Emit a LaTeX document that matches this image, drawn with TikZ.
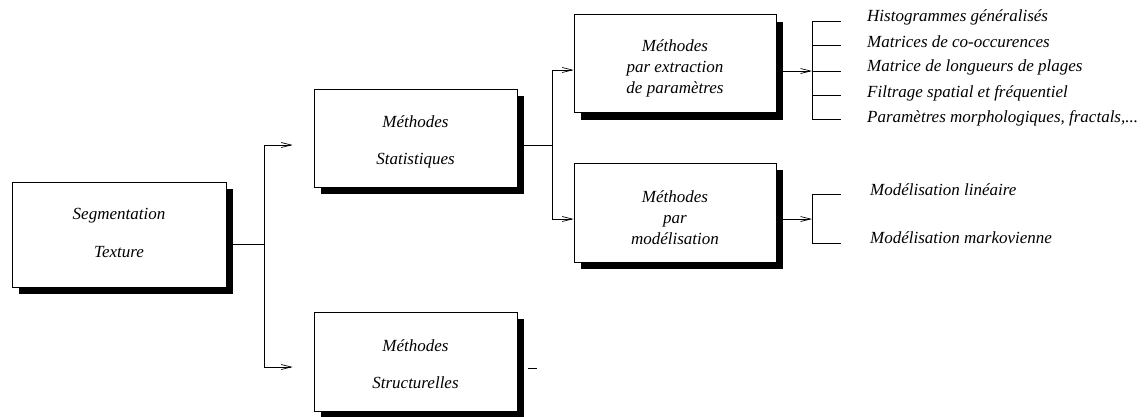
\documentclass[tikz,border=0pt]{standalone}
\usepackage{fontspec}
\setmainfont{Liberation Serif}
\usetikzlibrary{arrows.meta,shadows}
\begin{document}
\begin{tikzpicture}[x=1pt,y=-1pt,
  txt/.style={font=\fontsize{17}{21}\selectfont\itshape},
  box/.style={draw,line width=0.7pt,fill=white,inner sep=0pt,
    drop shadow={shadow xshift=7pt,shadow yshift=-7pt,fill=black,opacity=1}},
  boxtxt/.style={txt,align=center,inner sep=0pt},
  leaf/.style={txt,anchor=west,inner sep=0pt},
  conn/.style={line width=0.7pt},
  arr/.style={conn,-{Straight Barb[length=10pt,width=5pt]}}]
\useasboundingbox (0,0) rectangle (1148,416);

% boxes
\node[box,minimum width=214pt,minimum height=105pt] (b1) at (119,234.5) {};
\node[box,minimum width=203pt,minimum height=98pt] (b2) at (415.5,138) {};
\node[box,minimum width=203pt,minimum height=99pt] (b5) at (415.5,361.5) {};
\node[box,minimum width=202pt,minimum height=98pt] (b3) at (675,63.5) {};
\node[box,minimum width=202pt,minimum height=99pt] (b4) at (675,212.5) {};

% box texts
\node[boxtxt] (t1) at ([yshift=2pt]b1.center) {Segmentation\\[17pt]Texture};
\node[boxtxt] (t2) at ([yshift=-4pt]b2.center) {Méthodes\\[16pt]Statistiques};
\node[boxtxt] (t5) at ([yshift=-3pt]b5.center) {Méthodes\\[16pt]Structurelles};
\node[boxtxt] (t3) at ([yshift=-4.5pt]b3.center) {Méthodes\\par extraction\\de paramètres};
\node[boxtxt] (t4) at ([yshift=-5pt]b4.center) {Méthodes\\par\\modélisation};

% leaves
\node[leaf] (l1) at (867,17) {Histogrammes généralisés};
\node[leaf] (l2) at (867,42) {Matrices de co-occurences};
\node[leaf] (l3) at (867,67) {Matrice de longueurs de plages};
\node[leaf] (l4) at (867,93) {Filtrage spatial et fréquentiel};
\node[leaf] (l5) at (867,118) {Paramètres morphologiques, fractals,...};
\node[leaf] (m1) at (870,190) {Modélisation linéaire};
\node[leaf] (m2) at (870,238) {Modélisation markovienne};

% junction points
\coordinate (j1) at (264,244);
\coordinate (j1t) at (264,145);
\coordinate (j1b) at (264,367);
\coordinate (j2) at (552,145);
\coordinate (j2t) at (552,70);
\coordinate (j2b) at (552,219);
\coordinate (j3) at (812,71);
\coordinate (j3t) at (812,21);
\coordinate (j3b) at (812,119);
\coordinate (j4) at (812,219);
\coordinate (j4t) at (812,194);
\coordinate (j4b) at (812,243);

% level 1
\draw[conn] (b1.east |- j1) -- (j1);
\draw[conn] (j1t) -- (j1b);
\draw[arr,shorten >=21pt] (j1t) -- (j1t -| b2.west);
\draw[arr,shorten >=21pt] (j1b) -- (j1b -| b5.west);

% level 2
\draw[conn] (b2.east |- j2) -- (j2);
\draw[conn] (j2t) -- (j2b);
\draw[arr] (j2t) -- (j2t -| b3.west);
\draw[arr] (j2b) -- (j2b -| b4.west);

% level 3 (extraction)
\draw[arr] (b3.east |- j3) -- (j3);
\draw[conn] (j3t) -- (j3b);
\foreach \yy in {21,45,71,95,119} \draw[conn] (812,\yy) -- (841,\yy);

% level 3 (modelisation)
\draw[arr] (b4.east |- j4) -- (j4);
\draw[conn] (j4t) -- (j4b);
\draw[conn] (j4t) -- (841,194);
\draw[conn] (j4b) -- (841,243);

% small dash
\draw[conn] (528,368) -- (537,368);
\end{tikzpicture}
\end{document}
